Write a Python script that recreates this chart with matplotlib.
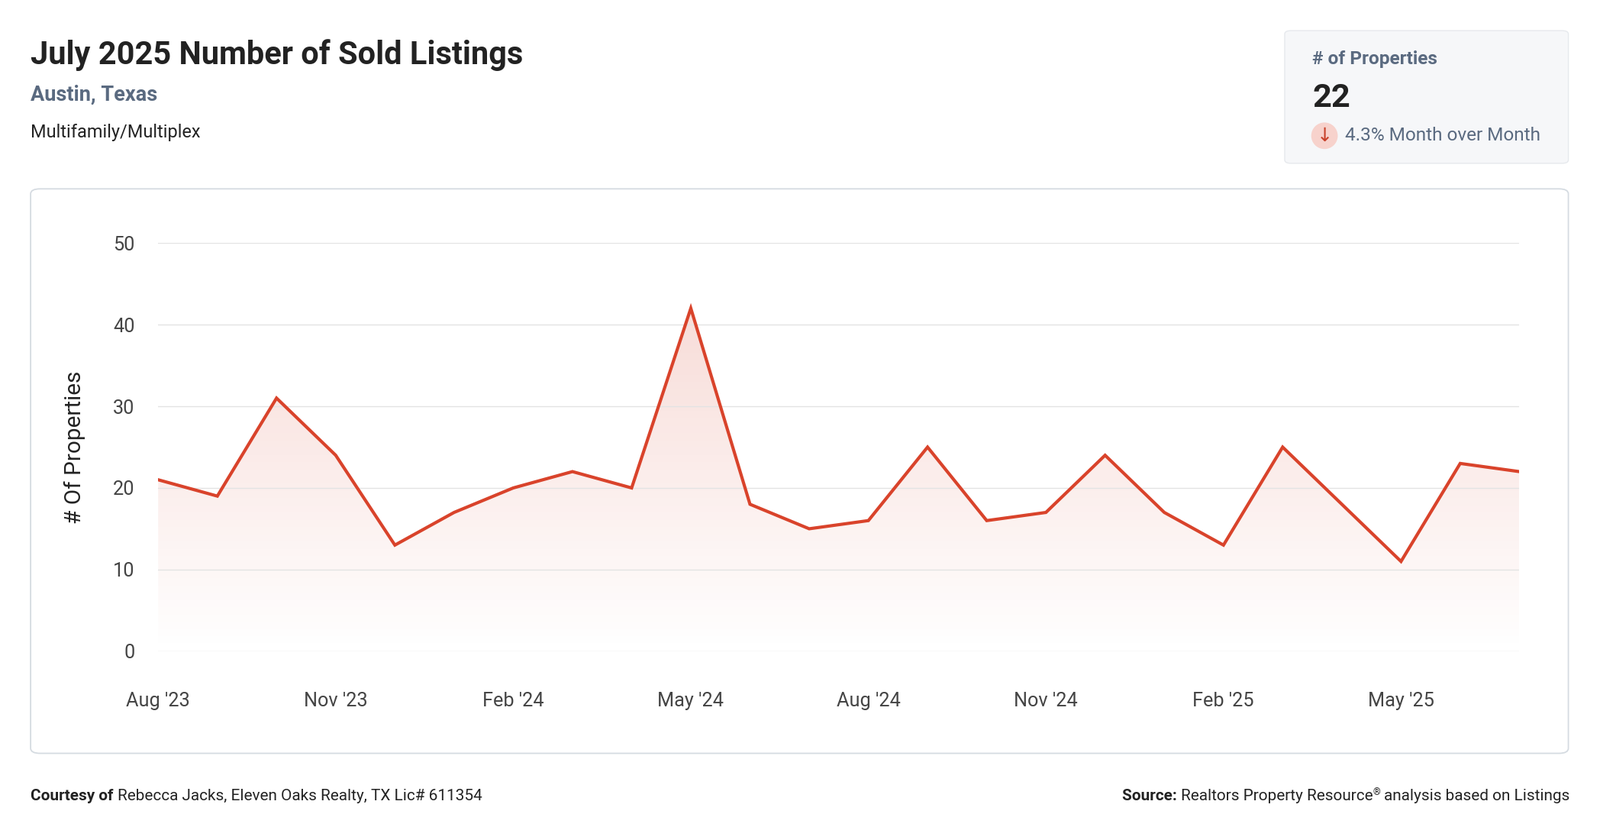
import numpy as np
import matplotlib
matplotlib.use("Agg")
import matplotlib.pyplot as plt
from matplotlib.patches import FancyBboxPatch, Ellipse

plt.rcParams["font.family"] = "Roboto"

months = ["Aug '23", "Sep '23", "Oct '23", "Nov '23", "Dec '23", "Jan '24", "Feb '24", "Mar '24",
          "Apr '24", "May '24", "Jun '24", "Jul '24", "Aug '24", "Sep '24", "Oct '24", "Nov '24",
          "Dec '24", "Jan '25", "Feb '25", "Mar '25", "Apr '25", "May '25", "Jun '25", "Jul '25"]
sold = [21, 19, 31, 24, 13, 17, 20, 22, 20, 42, 18, 15, 16, 25, 16, 17, 24, 17, 13, 25, 18, 11, 23, 22]
yticks = [0, 10, 20, 30, 40, 50]

W, H = 2096, 1100
S = W / 1568.0          # reference coords -> pixels
IH = H / S              # reference height
F = 1.3                 # font scale

def fx(x): return x / 1568.0
def fy(y): return 1 - y / IH

fig = plt.figure(figsize=(W / 100, H / 100), dpi=100)
fig.patch.set_facecolor("white")

# chart card
fig.patches.append(FancyBboxPatch((fx(30), fy(738)), fx(1537) - fx(30), fy(185) - fy(738),
                                  boxstyle="round,pad=0,rounding_size=0.006", transform=fig.transFigure,
                                  fc="white", ec="#d5dbe1", lw=1.3, zorder=-5))
# KPI card
fig.patches.append(FancyBboxPatch((fx(1259), fy(160)), fx(1537) - fx(1259), fy(30) - fy(160),
                                  boxstyle="round,pad=0,rounding_size=0.004", transform=fig.transFigure,
                                  fc="#f6f7f9", ec="#e6e9ed", lw=1.0, zorder=-5))

fig.text(fx(30), fy(54), "July 2025 Number of Sold Listings", fontsize=23 * F, weight="bold", color="#222", va="center")
fig.text(fx(30), fy(93), "Austin, Texas", fontsize=15 * F, weight="bold", color="#5a6a80", va="center")
fig.text(fx(30), fy(130), "Multifamily/Multiplex", fontsize=13 * F, color="#222", va="center")

fig.text(fx(1286), fy(58), "# of Properties", fontsize=13.5 * F, weight="bold", color="#5a6a80", va="center")
fig.text(fx(1286), fy(96), "22", fontsize=24 * F, weight="bold", color="#222", va="center")
rad = 13 * S
fig.patches.append(Ellipse((fx(1298), fy(133)), 2 * rad / W, 2 * rad / H, transform=fig.transFigure,
                           fc="#f7d2cc", ec="none"))
fig.text(fx(1298), fy(133), "\u2193", fontsize=14 * F, color="#c8412b", ha="center", va="center",
         family="DejaVu Sans")
fig.text(fx(1318), fy(133), "4.3% Month over Month", fontsize=13.5 * F, color="#5a6a80", va="center")

ax = fig.add_axes([fx(155), fy(638), fx(1489) - fx(155), fy(238) - fy(638)])
x = np.arange(len(sold))
ax.set_xlim(0, len(sold) - 1)
ax.set_ylim(0, 50)
ax.plot(x, sold, color="#d9432b", lw=3, zorder=3, solid_joinstyle="miter")

# gradient fill under line
grad = np.linspace(0.22, 0.0, 256).reshape(-1, 1)
rgba = np.zeros((256, 1, 4))
rgba[..., 0], rgba[..., 1], rgba[..., 2] = 0.85, 0.26, 0.17
rgba[..., 3] = grad
im = ax.imshow(rgba, extent=[0, len(sold) - 1, 0, 50], aspect="auto", origin="upper", zorder=1)
poly = ax.fill_between(x, sold, 0, color="none")
im.set_clip_path(poly.get_paths()[0], transform=ax.transData)

ax.set_yticks(yticks)
ax.grid(axis="y", color="#e3e3e3", lw=1)
ax.set_xticks(x[::3])
ax.set_xticklabels(months[::3])
ax.tick_params(axis="both", length=0, labelsize=14 * F, colors="#444")
ax.tick_params(axis="x", pad=38)
ax.tick_params(axis="y", pad=22)
for s in ax.spines.values():
    s.set_visible(False)
ax.set_ylabel("# Of Properties", fontsize=16.5 * F, color="#222", labelpad=26)

# footer: bold lead-in followed by regular text
fig.canvas.draw()
r = fig.canvas.get_renderer()
fs = 11.5 * F
t1 = fig.text(fx(30), fy(780), "Courtesy of ", fontsize=fs, weight="bold", color="#222", va="center")
w1 = t1.get_window_extent(r).width / W
fig.text(fx(30) + w1, fy(780), "Rebecca Jacks, Eleven Oaks Realty, TX Lic# 611354", fontsize=fs, color="#222", va="center")
t2 = fig.text(fx(1538), fy(780), "analysis based on Listings",
              fontsize=fs, color="#222", va="center", ha="right")
w2 = t2.get_window_extent(r).width / W
t3 = fig.text(fx(1538) - w2 - 0.002, fy(776), "\u00ae", fontsize=fs * 0.6, color="#222", va="center", ha="right")
w3 = t3.get_window_extent(r).width / W + 0.002
t4 = fig.text(fx(1538) - w2 - w3, fy(780), "Realtors Property Resource",
              fontsize=fs, color="#222", va="center", ha="right")
w4 = t4.get_window_extent(r).width / W
fig.text(fx(1538) - w2 - w3 - w4, fy(780), "Source: ", fontsize=fs, weight="bold", color="#222", va="center", ha="right")

fig.savefig("out.png", dpi=100)
